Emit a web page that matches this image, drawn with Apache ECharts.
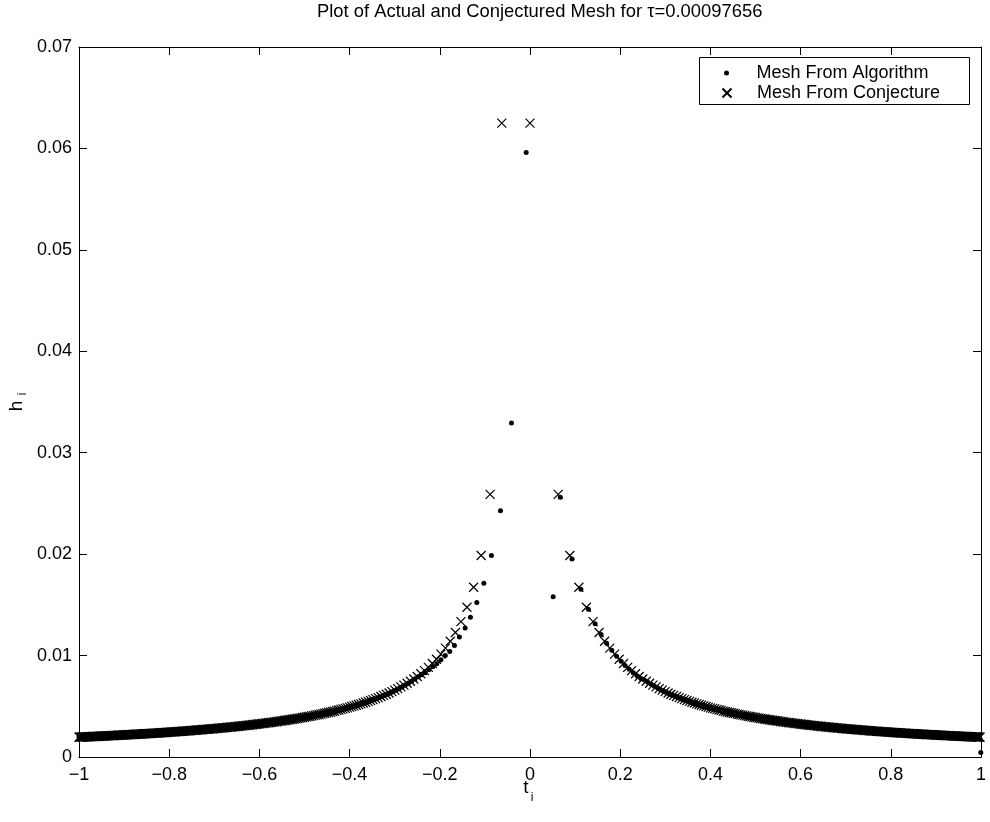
<!DOCTYPE html>
<html><head><meta charset="utf-8">
<script src="https://cdn.jsdelivr.net/npm/echarts@6/dist/echarts.min.js"></script>
<style>html,body{margin:0;padding:0;background:#fff}#c{width:990px;height:822px}</style>
</head><body><div id="c"></div>
<script>
const titleText = 'Plot of Actual and Conjectured Mesh for \u03c4=0.00097656';
const seriesNames = ['Mesh From Algorithm', 'Mesh From Conjecture'];
const xRange = [-1, 1, 0.2];
const yRange = [0, 0.07, 0.01];

// Conjectured mesh: node position t_i and step h_i (crosses)
const conjT = [
-1,-.9961,-.9922,-.9882,-.9843,-.9803,-.9763,-.9723,-.9682,-.9642,
-.9601,-.9561,-.9520,-.9479,-.9437,-.9396,-.9354,-.9312,-.9270,-.9228,
-.9186,-.9143,-.9100,-.9057,-.9014,-.8970,-.8927,-.8883,-.8839,-.8795,
-.8750,-.8705,-.8660,-.8615,-.8570,-.8524,-.8478,-.8432,-.8385,-.8339,
-.8292,-.8244,-.8197,-.8149,-.8101,-.8053,-.8004,-.7955,-.7906,-.7856,
-.7806,-.7756,-.7706,-.7655,-.7603,-.7552,-.7500,-.7448,-.7395,-.7342,
-.7289,-.7235,-.7181,-.7126,-.7071,-.7016,-.6960,-.6903,-.6847,-.6789,
-.6731,-.6673,-.6614,-.6555,-.6495,-.6435,-.6374,-.6312,-.6250,-.6187,
-.6124,-.6060,-.5995,-.5929,-.5863,-.5796,-.5728,-.5660,-.5590,-.5520,
-.5449,-.5376,-.5303,-.5229,-.5154,-.5078,
-.5000,-.4961,-.4921,-.4881,-.4841,-.4801,-.4760,-.4719,-.4677,-.4635,
-.4593,-.4550,-.4507,-.4463,-.4419,-.4375,-.4330,-.4285,-.4239,-.4193,
-.4146,-.4098,-.4050,-.4002,-.3953,-.3903,-.3853,-.3802,-.3750,-.3698,
-.3644,-.3590,-.3536,-.3480,-.3423,-.3366,-.3307,-.3248,-.3187,-.3125,
-.3062,-.2997,-.2932,-.2864,-.2795,-.2724,-.2652,-.2577,-.2500,-.2421,
-.2339,-.2253,-.2165,-.2073,-.1976,-.1875,-.1768,-.1654,-.1531,-.1398,
-.1250,-.1083,-.0884,-.0625,
0,.0625,.0884,.1083,.1250,.1398,.1531,.1654,.1768,.1875,
.1976,.2073,.2165,.2253,.2339,.2421,.2500,.2577,.2652,.2724,
.2795,.2864,.2932,.2997,.3062,.3125,.3187,.3248,.3307,.3366,
.3423,.3480,.3536,.3590,.3644,.3698,.3750,.3802,.3853,.3903,
.3953,.4002,.4050,.4098,.4146,.4193,.4239,.4285,.4330,.4375,
.4419,.4463,.4507,.4550,.4593,.4635,.4677,.4719,.4760,.4801,
.4841,.4881,.4921,.4961,.5000,
.5078,.5154,.5229,.5303,.5376,.5449,.5520,.5590,.5660,.5728,
.5796,.5863,.5929,.5995,.6060,.6124,.6187,.6250,.6312,.6374,
.6435,.6495,.6555,.6614,.6673,.6731,.6789,.6847,.6903,.6960,
.7016,.7071,.7126,.7181,.7235,.7289,.7342,.7395,.7448,.7500,
.7552,.7603,.7655,.7706,.7756,.7806,.7856,.7906,.7955,.8004,
.8053,.8101,.8149,.8197,.8244,.8292,.8339,.8385,.8432,.8478,
.8524,.8570,.8615,.8660,.8705,.8750,.8795,.8839,.8883,.8927,
.8970,.9014,.9057,.9100,.9143,.9186,.9228,.9270,.9312,.9354,
.9396,.9437,.9479,.9520,.9561,.9601,.9642,.9682,.9723,.9763,
.9803,.9843,.9882,.9922,.9961,.9980
];
const conjH = [
.00196,.00196,.00197,.00198,.00199,.00200,.00200,.00201,.00202,.00203,
.00204,.00205,.00206,.00206,.00207,.00208,.00209,.00210,.00211,.00212,
.00213,.00214,.00215,.00216,.00217,.00218,.00219,.00220,.00221,.00222,
.00224,.00225,.00226,.00227,.00228,.00229,.00231,.00232,.00233,.00235,
.00236,.00237,.00239,.00240,.00241,.00243,.00244,.00246,.00247,.00249,
.00250,.00252,.00254,.00255,.00257,.00259,.00261,.00263,.00265,.00267,
.00269,.00271,.00273,.00275,.00277,.00279,.00281,.00284,.00286,.00288,
.00291,.00294,.00296,.00299,.00301,.00304,.00307,.00310,.00313,.00317,
.00320,.00323,.00327,.00330,.00334,.00338,.00342,.00346,.00350,.00355,
.00360,.00365,.00370,.00375,.00380,.00386,
.00392,.00396,.00399,.00401,.00406,.00408,.00413,.00416,.00419,.00423,
.00428,.00431,.00436,.00439,.00444,.00449,.00453,.00459,.00463,.00469,
.00474,.00479,.00485,.00491,.00498,.00504,.00510,.00518,.00524,.00532,
.00540,.00548,.00557,.00566,.00575,.00586,.00596,.00608,.00619,.00631,
.00645,.00659,.00674,.00691,.00708,.00727,.00747,.00769,.00794,.00821,
.00851,.00884,.00922,.00964,.01014,.01073,.01141,.01227,.01334,.01476,
.01674,.01987,.02589,.0625,
.0625,.02589,.01987,.01674,.01476,.01334,.01227,.01141,.01073,.01014,
.00964,.00922,.00884,.00851,.00821,.00794,.00769,.00747,.00727,.00708,
.00691,.00674,.00659,.00645,.00631,.00619,.00608,.00596,.00586,.00575,
.00566,.00557,.00548,.00540,.00532,.00524,.00518,.00510,.00504,.00498,
.00491,.00485,.00479,.00474,.00469,.00463,.00459,.00453,.00449,.00444,
.00439,.00436,.00431,.00428,.00423,.00419,.00416,.00413,.00408,.00406,
.00401,.00399,.00396,.00392,.00389,
.00383,.00378,.00372,.00367,.00362,.00357,.00353,.00348,.00344,.00340,
.00336,.00332,.00329,.00325,.00322,.00318,.00315,.00312,.00309,.00306,
.00303,.00300,.00297,.00295,.00292,.00290,.00287,.00285,.00282,.00280,
.00278,.00276,.00274,.00272,.00270,.00268,.00266,.00264,.00262,.00260,
.00258,.00256,.00255,.00253,.00251,.00250,.00248,.00247,.00245,.00244,
.00242,.00241,.00239,.00238,.00237,.00235,.00234,.00233,.00231,.00230,
.00229,.00228,.00226,.00225,.00224,.00223,.00222,.00221,.00220,.00219,
.00218,.00216,.00215,.00214,.00213,.00212,.00211,.00211,.00210,.00209,
.00208,.00207,.00206,.00205,.00204,.00203,.00202,.00202,.00201,.00200,
.00199,.00198,.00197,.00197,.00196,.00196
];
// Further conjectured nodes in the dense outer parts (|t| > 0.5)
const conjTDense = [
-.9981,-.9942,-.9902,-.9863,-.9823,-.9783,-.9743,-.9703,-.9662,
-.9622,-.9581,-.9541,-.9500,-.9458,-.9417,-.9375,-.9333,-.9291,-.9249,
-.9207,-.9165,-.9122,-.9079,-.9036,-.8992,-.8949,-.8905,-.8861,-.8817,
-.8773,-.8728,-.8683,-.8638,-.8593,-.8547,-.8501,-.8455,-.8409,-.8362,
-.8316,-.8268,-.8221,-.8173,-.8125,-.8077,-.8029,-.7980,-.7931,-.7881,
-.7831,-.7781,-.7731,-.7681,-.7629,-.7578,-.7526,-.7474,-.7422,-.7369,
-.7316,-.7262,-.7208,-.7154,-.7099,-.7044,-.6988,-.6932,-.6875,-.6818,
-.6760,-.6702,-.6644,-.6585,-.6525,-.6465,-.6405,-.6343,-.6281,-.6219,
-.6156,-.6092,-.6028,-.5962,-.5896,-.5830,-.5762,-.5694,-.5625,-.5555,
-.5485,-.5413,-.5340,-.5266,-.5192,-.5116,-.5039,
.5039,.5116,.5192,.5266,.5340,.5413,.5485,.5555,.5625,.5694,
.5762,.5830,.5896,.5962,.6028,.6092,.6156,.6219,.6281,.6343,
.6405,.6465,.6525,.6585,.6644,.6702,.6760,.6818,.6875,.6932,
.6988,.7044,.7099,.7154,.7208,.7262,.7316,.7369,.7422,.7474,
.7526,.7578,.7629,.7681,.7731,.7781,.7831,.7881,.7931,.7980,
.8029,.8077,.8125,.8173,.8221,.8268,.8316,.8362,.8409,.8455,
.8501,.8547,.8593,.8638,.8683,.8728,.8773,.8817,.8861,.8905,
.8949,.8992,.9036,.9079,.9122,.9165,.9207,.9249,.9291,.9333,
.9375,.9417,.9458,.9500,.9541,.9581,.9622,.9662,.9703,.9743,
.9783,.9823,.9863,.9902,.9942
];
const conjHDense = [
.00196,.00197,.00197,.00198,.00199,.00200,.00201,.00202,.00202,
.00203,.00204,.00205,.00206,.00207,.00208,.00209,.00210,.00211,.00211,
.00212,.00213,.00214,.00215,.00216,.00218,.00219,.00220,.00221,.00222,
.00223,.00224,.00225,.00226,.00228,.00229,.00230,.00231,.00233,.00234,
.00235,.00237,.00238,.00239,.00241,.00242,.00244,.00245,.00247,.00248,
.00250,.00251,.00253,.00255,.00256,.00258,.00260,.00262,.00264,.00266,
.00268,.00270,.00272,.00274,.00276,.00278,.00280,.00282,.00285,.00287,
.00290,.00292,.00295,.00297,.00300,.00303,.00306,.00309,.00312,.00315,
.00318,.00322,.00325,.00329,.00332,.00336,.00340,.00344,.00348,.00353,
.00357,.00362,.00367,.00372,.00378,.00383,.00389,
.00386,.00380,.00375,.00370,.00365,.00360,.00355,.00350,.00346,.00342,
.00338,.00334,.00330,.00327,.00323,.00320,.00317,.00313,.00310,.00307,
.00304,.00301,.00299,.00296,.00294,.00291,.00288,.00286,.00284,.00281,
.00279,.00277,.00275,.00273,.00271,.00269,.00267,.00265,.00263,.00261,
.00259,.00257,.00255,.00254,.00252,.00250,.00249,.00247,.00246,.00244,
.00243,.00241,.00240,.00239,.00237,.00236,.00235,.00233,.00232,.00231,
.00229,.00228,.00227,.00226,.00225,.00224,.00222,.00221,.00220,.00219,
.00218,.00217,.00216,.00215,.00214,.00213,.00212,.00211,.00210,.00209,
.00208,.00207,.00206,.00206,.00205,.00204,.00203,.00202,.00201,.00200,
.00200,.00199,.00198,.00197,.00196
];

// Mesh from the algorithm: node position and step (dots)
const algT = [
-1,-.9981,-.9942,-.9902,-.9863,-.9823,-.9783,-.9743,-.9703,-.9662,
-.9622,-.9581,-.9541,-.9500,-.9458,-.9417,-.9375,-.9333,-.9291,-.9249,
-.9207,-.9165,-.9122,-.9079,-.9036,-.8992,-.8949,-.8905,-.8861,-.8817,
-.8773,-.8728,-.8683,-.8638,-.8593,-.8547,-.8501,-.8455,-.8409,-.8362,
-.8316,-.8268,-.8221,-.8173,-.8125,-.8077,-.8029,-.7980,-.7931,-.7881,
-.7831,-.7781,-.7731,-.7681,-.7629,-.7578,-.7526,-.7474,-.7422,-.7369,
-.7316,-.7262,-.7208,-.7154,-.7099,-.7044,-.6988,-.6932,-.6875,-.6818,
-.6760,-.6702,-.6644,-.6585,-.6525,-.6465,-.6405,-.6343,-.6281,-.6219,
-.6156,-.6092,-.6028,-.5962,-.5896,-.5830,-.5762,-.5694,-.5625,-.5555,
-.5485,-.5413,-.5340,-.5266,-.5192,-.5116,-.5039,
-.4951,-.4911,-.4871,-.4831,-.4791,-.4750,-.4709,-.4667,-.4625,-.4583,
-.4540,-.4497,-.4453,-.4409,-.4365,-.4320,-.4275,-.4229,-.4173,-.4126,
-.4078,-.4030,-.3982,-.3933,-.3883,-.3833,-.3782,-.3730,-.3678,-.3624,
-.3570,-.3516,-.3460,-.3393,-.3336,-.3277,-.3218,-.3157,-.3095,-.3032,
-.2967,-.2902,-.2834,-.2765,-.2694,-.2622,-.2547,
-.2475,-.2406,-.2325,-.2242,-.2156,-.2067,-.1975,-.1879,-.1779,-.1675,
-.1565,-.1438,-.1321,-.1179,-.1024,-.0855,-.0655,-.0411,-.0085,.0513,
.0671,.0931,.1128,
.1295,.1443,.1576,.1699,.1813,.1920,.2021,.2108,.2200,.2288,
.2374,.2456,.2535,.2612,.2687,.2759,.2830,.2889,.2957,.3022,
.3087,.3150,.3212,.3273,.3332,.3391,.3448,.3505,.3561,.3615,
.3669,.3723,.3775,.3827,.3878,.3928,.3978,.4022,.4070,.4118,
.4166,.4213,.4259,.4305,.4350,.4395,.4439,.4483,.4527,.4570,
.4613,.4655,.4697,.4739,.4780,.4821,.4861,.4901,.4941,.4981,
.5054,.5131,.5207,.5281,.5355,.5428,.5500,.5570,.5640,.5709,
.5777,.5845,.5911,.5977,.6043,.6107,.6171,.6234,.6296,.6358,
.6420,.6480,.6540,.6600,.6659,.6717,.6775,.6833,.6890,.6947,
.7003,.7059,.7114,.7169,.7223,.7277,.7331,.7384,.7437,.7489,
.7541,.7593,.7644,.7696,.7746,.7796,.7846,.7896,.7946,.7995,
.8044,.8092,.8140,.8188,.8236,.8283,.8331,.8377,.8424,.8470,
.8516,.8562,.8608,.8653,.8698,.8743,.8788,.8832,.8876,.8920,
.8964,.9007,.9051,.9094,.9137,.9180,.9222,.9264,.9306,.9348,
.9390,.9432,.9473,.9515,.9556,.9596,.9637,.9677,.9718,.9758,
.9798,.9838,.9878,.9917,.9957,.9977,.9995
];
const algH = [
.00196,.00196,.00197,.00197,.00198,.00199,.00200,.00201,.00202,.00202,
.00203,.00204,.00205,.00206,.00207,.00208,.00209,.00210,.00211,.00211,
.00212,.00213,.00214,.00215,.00216,.00218,.00219,.00220,.00221,.00222,
.00223,.00224,.00225,.00226,.00228,.00229,.00230,.00231,.00233,.00234,
.00235,.00237,.00238,.00239,.00241,.00242,.00244,.00245,.00247,.00248,
.00250,.00251,.00253,.00255,.00256,.00258,.00260,.00262,.00264,.00266,
.00268,.00270,.00272,.00274,.00276,.00278,.00280,.00282,.00285,.00287,
.00290,.00292,.00295,.00297,.00300,.00303,.00306,.00309,.00312,.00315,
.00318,.00322,.00325,.00329,.00332,.00336,.00340,.00344,.00348,.00353,
.00357,.00362,.00367,.00372,.00378,.00383,.00389,
.00396,.00399,.00401,.00406,.00408,.00413,.00416,.00419,.00423,.00428,
.00431,.00436,.00439,.00444,.00449,.00453,.00459,.00463,.00469,.00474,
.00479,.00485,.00491,.00498,.00504,.00510,.00518,.00524,.00532,.00540,
.00548,.00557,.00566,.00575,.00586,.00596,.00608,.00619,.00631,.00645,
.00659,.00674,.00691,.00708,.00727,.00747,.00769,
.0079,.0081,.0083,.0086,.0089,.0092,.0096,.0100,.0104,.0110,
.01182,.01271,.01379,.01523,.01714,.01986,.02429,.03293,.0596,.01579,
.02561,.01953,.01655,
.01456,.01314,.01207,.01121,.01053,.00994,.00944,.00902,.00864,.00831,
.00801,.00774,.00759,.00737,.00717,.00698,.00681,.00664,.00649,.00635,
.00621,.00609,.00598,.00586,.00576,.00565,.00556,.00547,.00538,.00530,
.00522,.00514,.00508,.00500,.00494,.00488,.00481,.00480,.00474,.00469,
.00464,.00458,.00454,.00448,.00444,.00439,.00434,.00431,.00426,.00423,
.00418,.00414,.00411,.00408,.00403,.00401,.00396,.00394,.00391,.00387,
.00386,.00380,.00375,.00370,.00365,.00360,.00355,.00350,.00346,.00342,
.00338,.00334,.00330,.00327,.00323,.00320,.00317,.00313,.00310,.00307,
.00304,.00301,.00299,.00296,.00294,.00291,.00288,.00286,.00284,.00281,
.00279,.00277,.00275,.00273,.00271,.00269,.00267,.00265,.00263,.00261,
.00259,.00257,.00255,.00254,.00252,.00250,.00249,.00247,.00246,.00244,
.00243,.00241,.00240,.00239,.00237,.00236,.00235,.00233,.00232,.00231,
.00229,.00228,.00227,.00226,.00225,.00224,.00222,.00221,.00220,.00219,
.00218,.00217,.00216,.00215,.00214,.00213,.00212,.00211,.00210,.00209,
.00208,.00207,.00206,.00206,.00205,.00204,.00203,.00202,.00201,.00200,
.00200,.00199,.00198,.00197,.00196,.0018,.00045
];

if (conjT.length !== conjH.length) console.error('conj length mismatch', conjT.length, conjH.length);
if (conjTDense.length !== conjHDense.length) console.error('conj dense length mismatch', conjTDense.length, conjHDense.length);
if (algT.length !== algH.length) console.error('alg length mismatch', algT.length, algH.length);

const FONT = '"Liberation Sans", Arial, Helvetica, sans-serif';
const pairs = (t, h) => t.map((v, i) => [v, h[i]]);
const X_PATH = 'path://M0,0L10,10M10,0L0,10';
const fmtX = v => (Math.abs(v) < 1e-9 ? '0' : String(+v.toFixed(2)).replace('-', '\u2212'));
const fmtY = v => (Math.abs(v) < 1e-12 ? '0' : String(+v.toFixed(2)));

const lineStyle = { color: '#000', width: 1 };
function axisBase(extra) {
  return Object.assign({
    type: 'value',
    axisLine: { show: true, onZero: false, lineStyle: lineStyle },
    axisTick: { show: true, inside: true, length: 8, lineStyle: lineStyle },
    splitLine: { show: false },
    minorTick: { show: false }
  }, extra);
}
const labelStyle = { color: '#000', fontFamily: FONT, fontSize: 18 };

const chart = echarts.init(document.getElementById('c'), null, { renderer: 'canvas' });
chart.setOption({
  animation: false,
  backgroundColor: '#fff',
  title: {
    text: titleText, left: 317, top: 3, padding: 0,
    textStyle: { fontFamily: FONT, fontSize: 18.4, fontWeight: 'normal', color: '#000' }
  },
  grid: { left: 79, right: 9, top: 47, bottom: 65 },
  xAxis: [
    axisBase({ min: xRange[0], max: xRange[1], interval: xRange[2], position: 'bottom',
      axisLabel: Object.assign({ margin: 9, formatter: fmtX }, labelStyle) }),
    axisBase({ min: xRange[0], max: xRange[1], interval: xRange[2], position: 'top',
      axisLabel: { show: false } })
  ],
  yAxis: [
    axisBase({ min: yRange[0], max: yRange[1], interval: yRange[2], position: 'left',
      axisLabel: Object.assign({ margin: 7, formatter: fmtY }, labelStyle) }),
    axisBase({ min: yRange[0], max: yRange[1], interval: yRange[2], position: 'right',
      axisLabel: { show: false } })
  ],
  legend: [
    { data: [seriesNames[0]], left: 724, top: 64, itemWidth: 50, itemHeight: 5, padding: 0,
      selectedMode: false, z: 6, textStyle: Object.assign({}, labelStyle) },
    { data: [seriesNames[1]], left: 720, top: 84, itemWidth: 50, itemHeight: 9, padding: 0,
      selectedMode: false, z: 6, textStyle: Object.assign({}, labelStyle) }
  ],
  graphic: [
    { type: 'rect', z: 5, shape: { x: 699.5, y: 57.5, width: 270, height: 47 },
      style: { fill: '#fff', stroke: '#000', lineWidth: 1 } },
    { type: 'text', x: 17, y: 406, rotation: Math.PI / 2,
      style: { text: 'h', font: '19px ' + FONT, fill: '#000', align: 'center', verticalAlign: 'middle' } },
    { type: 'text', x: 23, y: 394, rotation: Math.PI / 2,
      style: { text: 'i', font: '12px ' + FONT, fill: '#000', align: 'center', verticalAlign: 'middle' } },
    { type: 'text', x: 526, y: 788,
      style: { text: 't', font: '19px ' + FONT, fill: '#000', align: 'center', verticalAlign: 'middle' } },
    { type: 'text', x: 532, y: 798,
      style: { text: 'i', font: '12px ' + FONT, fill: '#000', align: 'center', verticalAlign: 'middle' } }
  ],
  series: [
    { name: seriesNames[0], type: 'scatter', data: pairs(algT, algH),
      symbol: 'circle', symbolSize: 5, clip: false, z: 2, large: false,
      itemStyle: { color: '#000', opacity: 1 } },
    { name: seriesNames[1], type: 'scatter',
      data: pairs(conjT, conjH).concat(pairs(conjTDense, conjHDense)),
      symbol: X_PATH, symbolSize: 9, clip: false, z: 3, large: false,
      itemStyle: { color: 'none', borderColor: '#000', borderWidth: 1.2, opacity: 1 } }
  ]
});
</script>
</body></html>
